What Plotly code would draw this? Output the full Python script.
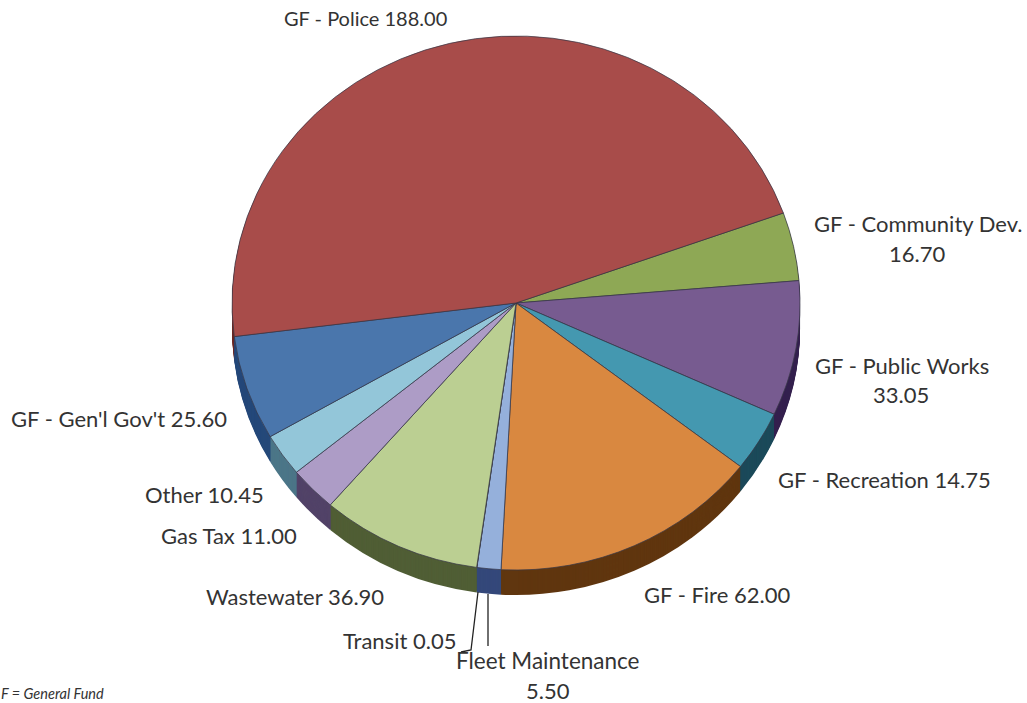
import plotly.graph_objects as go

W, H = 1027, 703

categories = ["GF - Community Dev.", "GF - Public Works", "GF - Recreation", "GF - Fire",
              "Fleet Maintenance", "Transit", "Wastewater", "Gas Tax", "Other",
              "GF - Gen'l Gov't", "GF - Police"]
values = [16.70, 33.05, 14.75, 62.00, 5.50, 0.05, 36.90, 11.00, 10.45, 25.60, 188.00]
label_text = ["GF - Police 188.00", "GF - Community Dev.", "16.70", "GF - Public Works", "33.05",
              "GF - Recreation 14.75", "GF - Fire 62.00", "Fleet Maintenance", "5.50",
              "Transit 0.05", "Wastewater 36.90", "Gas Tax 11.00", "Other 10.45",
              "GF - Gen'l Gov't 25.60"]
footnote = "F = General Fund"

top_colors = ["#8EA855", "#775B90", "#4498B0", "#D98840", "#95B0DB", "#5A6E98", "#BBCF92",
              "#AD9CC6", "#93C6D9", "#4A76AC", "#A84C4A"]
side_colors = ["#4C5A2D", "#35204F", "#1C4A5A", "#60360F", "#34487A", "#34487A", "#505E35",
               "#524368", "#4C7688", "#25497A", "#6A2826"]
label_x = [365, 918, 917, 902, 901, 884, 717, 548, 548, 399, 295, 229, 204, 119]
label_y = [18, 223, 253, 365, 394, 479, 594, 660, 690, 640, 596, 535, 494, 418]
label_size = [20, 22, 22, 22, 22, 22, 22, 22.5, 22, 22, 22, 22, 22, 22]

CX, CY, RX, RY, DEPTH = 516, 303, 284, 267, 25
K = RY / RX
ROTATION = 70.3


def pie(colors, offset, line):
    cy = CY + offset / K
    return go.Pie(
        labels=categories, values=values, sort=False, direction="clockwise",
        rotation=ROTATION, textinfo="none", showlegend=False, hoverinfo="label+value",
        marker=dict(colors=colors, line=line),
        domain=dict(x=[(CX - RX) / W, (CX + RX) / W],
                    y=[1 - (cy + RX) / H, 1 - (cy - RX) / H]),
    )


fig = go.Figure()
for d in range(DEPTH, 0, -1):
    fig.add_trace(pie(side_colors, d, dict(width=0)))
fig.add_trace(pie(top_colors, 0, dict(color="rgba(55,55,70,0.75)", width=1)))

for text, x, y, size in zip(label_text, label_x, label_y, label_size):
    fig.add_annotation(text=text, x=x / W, y=1 - y / H, xref="paper", yref="paper",
                       showarrow=False, xanchor="center", yanchor="middle",
                       font=dict(family="Lato", size=size, color="#333333"))
fig.add_annotation(text=f"<i>{footnote}</i>", x=0, y=0, xref="paper", yref="paper",
                   showarrow=False, xanchor="left", yanchor="bottom", borderpad=0,
                   font=dict(family="Lato", size=14.5, color="#333333"))

leader = dict(color="#222222", width=1.3)
fig.add_shape(type="path", xref="paper", yref="paper", line=leader,
              path=f"M {478/W} {1-592/H} L {471/W} {1-650/H} L {461/W} {1-652/H}")
fig.add_shape(type="line", xref="paper", yref="paper", line=leader,
              x0=488 / W, x1=488 / W, y0=1 - 594 / H, y1=1 - 646 / H)

fig.update_layout(width=W, height=H, margin=dict(l=0, r=0, t=0, b=0),
                  paper_bgcolor="white", plot_bgcolor="white")

post = f"""
document.body.style.margin='0';
document.body.style.overflow='hidden';
document.querySelectorAll('.pielayer').forEach(function(g){{
  g.setAttribute('transform','translate(0,{CY}) scale(1,{K}) translate(0,{-CY})');
}});
"""
fig.write_html("out.html", post_script=post, config=dict(displayModeBar=False))
